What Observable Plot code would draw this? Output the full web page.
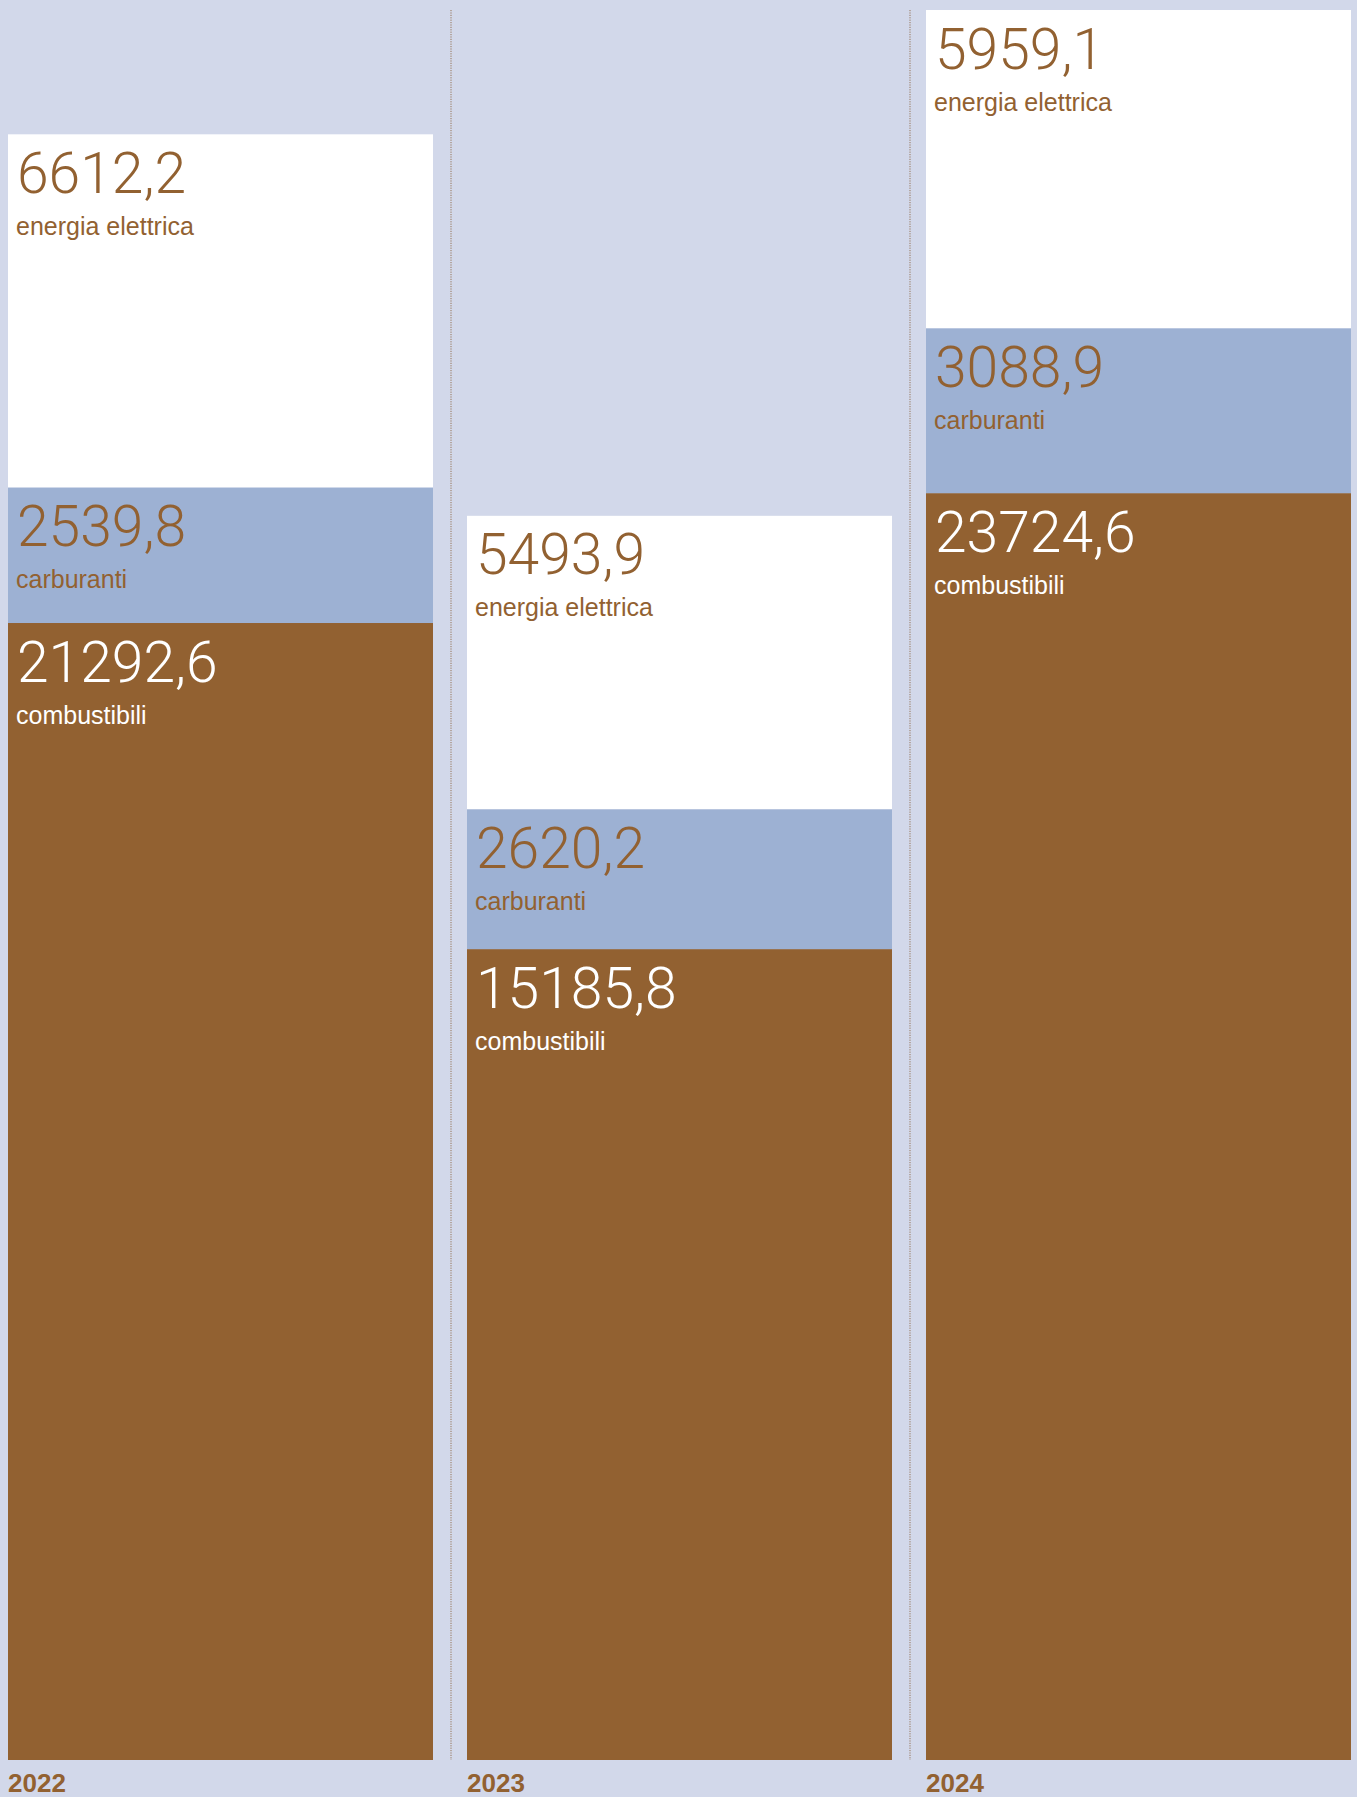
<!DOCTYPE html>
<html>
<head>
<meta charset="utf-8">
<script src="https://cdn.jsdelivr.net/npm/d3@7"></script>
<script src="https://cdn.jsdelivr.net/npm/@observablehq/plot@0.6"></script>
<style>
  html, body { margin: 0; padding: 0; background: #d2d8ea; }
  #chart svg { display: block; }
</style>
</head>
<body>
<div id="chart"></div>
<script>
const years = ["2022", "2023", "2024"];
const categories = ["combustibili", "carburanti", "energia elettrica"];
const combustibili = [21292.6, 15185.8, 23724.6];
const carburanti = [2539.8, 2620.2, 3088.9];
const energiaElettrica = [6612.2, 5493.9, 5959.1];

const brown = "#926131";
const blue = "#9db1d3";
const white = "#ffffff";
const bg = "#d2d8ea";

const barColor = {"combustibili": brown, "carburanti": blue, "energia elettrica": white};
const textColor = {"combustibili": white, "carburanti": brown, "energia elettrica": brown};

const seriesValues = {"combustibili": combustibili, "carburanti": carburanti, "energia elettrica": energiaElettrica};
const rows = [];
years.forEach((year, i) => {
  categories.forEach(cat => rows.push({year, cat, value: seriesValues[cat][i]}));
});
const totals = years.map((y, i) => combustibili[i] + carburanti[i] + energiaElettrica[i]);

const fmt = d3.formatLocale({decimal: ",", thousands: ".", grouping: [3], currency: ["", "€"]}).format(".1f");

const chart = Plot.plot({
  width: 1357,
  height: 1797,
  marginLeft: 7,
  marginRight: 4,
  marginTop: 10,
  marginBottom: 37,
  style: {background: bg},
  x: {domain: years, paddingInner: 34 / 460, paddingOuter: 0, axis: null},
  y: {domain: [0, d3.max(totals)], axis: null},
  marks: [
    Plot.ruleX(years.slice(0, 2), {x: d => d, dx: 230, stroke: "#8f6c4a", strokeWidth: 1, strokeDasharray: "1.2,1.2", strokeOpacity: 0.9}),
    Plot.barY(rows, {x: "year", y: "value", z: "cat", fill: d => barColor[d.cat]}),
    Plot.text(rows, Plot.stackY2({
      x: "year", y: "value", z: "cat",
      text: d => fmt(d.value),
      fill: d => textColor[d.cat],
      textAnchor: "start", lineAnchor: "bottom",
      dx: -204, dy: 58,
      fontFamily: "Roboto", fontWeight: 300, fontSize: 57
    })),
    Plot.text(rows, Plot.stackY2({
      x: "year", y: "value", z: "cat",
      text: "cat",
      fill: d => textColor[d.cat],
      textAnchor: "start", lineAnchor: "bottom",
      dx: -205, dy: 100,
      fontFamily: "Liberation Sans", fontWeight: 400, fontSize: 25
    })),
    Plot.axisX({
      label: null,
      tickSize: 0, tickPadding: 13,
      textAnchor: "start", dx: -213,
      fill: brown, fontSize: 26, fontWeight: "bold", fontFamily: "Liberation Sans"
    })
  ]
});
document.getElementById("chart").append(chart);
</script>
</body>
</html>
